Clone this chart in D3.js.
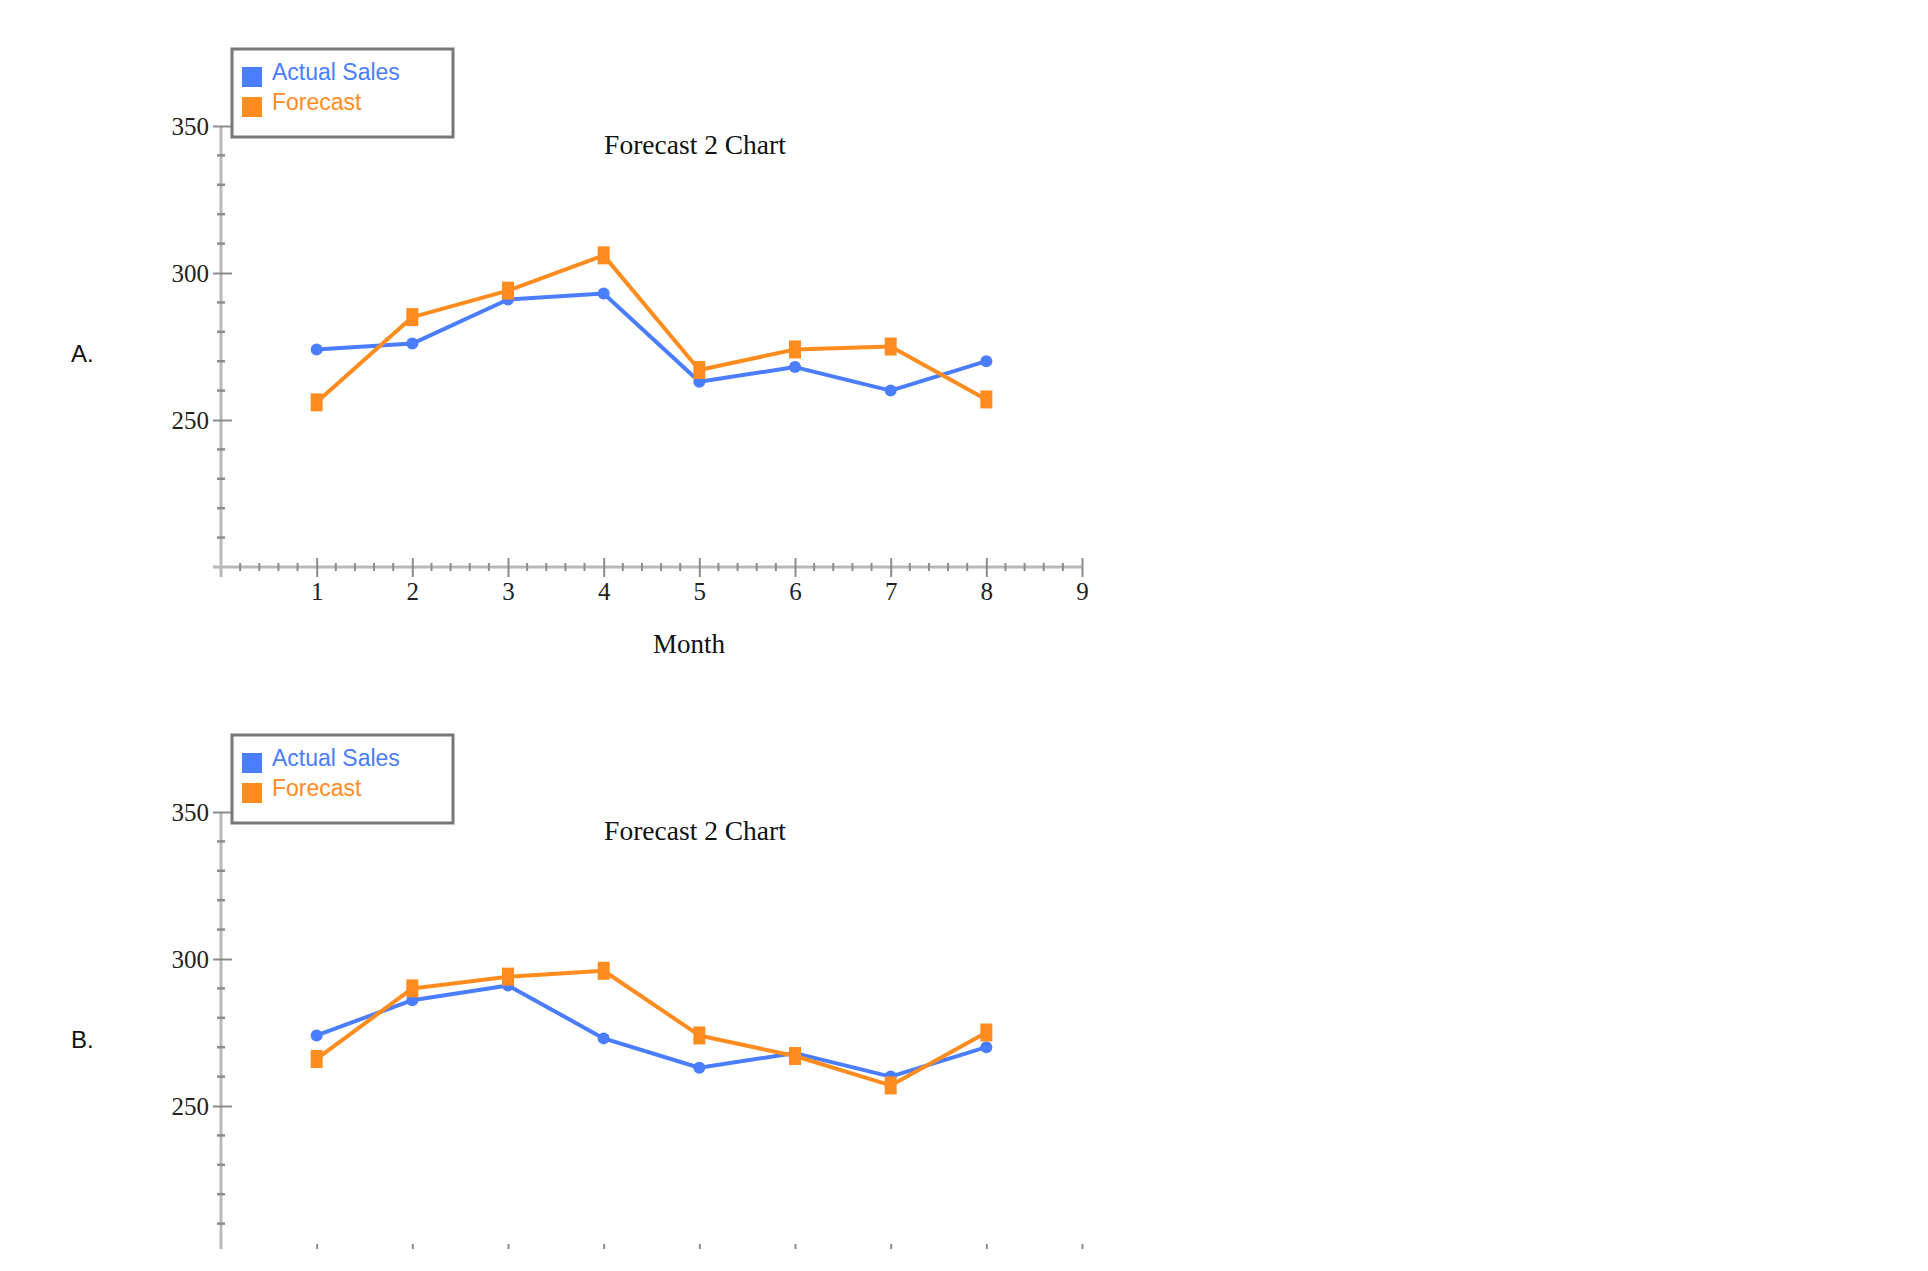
<!DOCTYPE html>
<html>
<head>
<meta charset="utf-8">
<script src="https://cdn.jsdelivr.net/npm/d3@7"></script>
<style>
  body { margin: 0; background: #fff; }
  svg { display: block; }
</style>
</head>
<body>
<svg id="chart"></svg>
<script>
const months = [1, 2, 3, 4, 5, 6, 7, 8];
const actualA = [274, 276, 291, 293, 263, 268, 260, 270];
const forecastA = [256, 285, 294, 306, 267, 274, 275, 257];
const actualB = [274, 286, 291, 273, 263, 268, 260, 270];
const forecastB = [266, 290, 294, 296, 274, 267, 257, 275];
const yTickLabels = [250, 300, 350];
const xTickLabels = [1, 2, 3, 4, 5, 6, 7, 8, 9];
const seriesNames = ["Actual Sales", "Forecast"];

const W = 1928, H = 1271;
const blue = "#4a7dff", orange = "#ff8c1f";
const serif = "'Liberation Serif', 'Times New Roman', serif";
const sans = "'Liberation Sans', Arial, sans-serif";

const svg = d3.select("#chart").attr("width", W).attr("height", H);

// the lower chart is cut off at the bottom of the page
svg.append("defs").append("clipPath").attr("id", "clipB")
  .append("rect").attr("x", 0).attr("y", 0).attr("width", W).attr("height", 1249);

const x = d3.scaleLinear().domain([0, 9]).range([221, 1082]);
const y = d3.scaleLinear().domain([200, 350]).range([567, 126]);

function drawChart(offset, letter, actual, forecast, cut) {
  const outer = svg.append("g");
  if (cut) outer.attr("clip-path", "url(#clipB)");
  const c = outer.append("g").attr("transform", `translate(0,${offset})`);

  // axis lines
  c.append("line")
    .attr("x1", x(0)).attr("x2", x(0))
    .attr("y1", y(350)).attr("y2", y(200) + 10)
    .attr("stroke", "#b9b9b9").attr("stroke-width", 3);
  c.append("line")
    .attr("x1", x(0) - 8).attr("x2", x(9))
    .attr("y1", y(200)).attr("y2", y(200))
    .attr("stroke", "#b9b9b9").attr("stroke-width", 3);

  // y minor ticks
  const yMinor = d3.range(210, 350, 10).filter(v => v % 50 !== 0);
  c.selectAll(".ymin").data(yMinor).enter().append("line")
    .attr("x1", x(0) - 4).attr("x2", x(0) + 4)
    .attr("y1", d => y(d)).attr("y2", d => y(d))
    .attr("stroke", "#8c8c8c").attr("stroke-width", 2.5);

  // y major ticks
  const yAxis = c.append("g")
    .attr("transform", `translate(${x(0)},0)`)
    .call(d3.axisLeft(y).tickValues(yTickLabels).tickSize(8).tickPadding(4));
  yAxis.select(".domain").remove();
  yAxis.selectAll(".tick line").attr("x1", 11).attr("x2", -8)
    .attr("stroke", "#8c8c8c").attr("stroke-width", 2);
  yAxis.selectAll(".tick text")
    .attr("font-family", serif).attr("font-size", 25).attr("fill", "#222");

  // x minor ticks
  const xMinor = d3.range(1, 45).map(i => i / 5).filter(v => Math.abs(v - Math.round(v)) > 1e-6);
  c.selectAll(".xmin").data(xMinor).enter().append("line")
    .attr("x1", d => x(d)).attr("x2", d => x(d))
    .attr("y1", y(200) - 4).attr("y2", y(200) + 4)
    .attr("stroke", "#8c8c8c").attr("stroke-width", 2);

  // x major ticks (labels only where the page shows them)
  const xAxis = c.append("g")
    .attr("transform", `translate(0,${y(200)})`)
    .call(d3.axisBottom(x).tickValues(xTickLabels).tickSize(10).tickPadding(5)
      .tickFormat(cut ? () => "" : d3.format("d")));
  xAxis.select(".domain").remove();
  xAxis.selectAll(".tick line").attr("y1", -9).attr("y2", 10)
    .attr("stroke", "#8c8c8c").attr("stroke-width", 2);
  xAxis.selectAll(".tick text")
    .attr("font-family", serif).attr("font-size", 25).attr("fill", "#222");
  if (cut) xAxis.selectAll(".tick text").remove();

  // title and axis label
  c.append("text").attr("x", 695).attr("y", 154).attr("text-anchor", "middle")
    .attr("font-family", serif).attr("font-size", 27.5).attr("fill", "#111")
    .text("Forecast 2 Chart");
  if (!cut) {
    c.append("text").attr("x", 689).attr("y", 653).attr("text-anchor", "middle")
      .attr("font-family", serif).attr("font-size", 27).attr("fill", "#111")
      .text("Month");
  }

  c.append("text").attr("x", 71).attr("y", 362)
    .attr("font-family", sans).attr("font-size", 24).attr("fill", "#111")
    .text(letter);

  // lines
  const line = d3.line().x((d, i) => x(months[i])).y(d => y(d));
  c.append("path").datum(actual).attr("d", line)
    .attr("fill", "none").attr("stroke", blue).attr("stroke-width", 4)
    .attr("stroke-linejoin", "round");
  c.append("path").datum(forecast).attr("d", line)
    .attr("fill", "none").attr("stroke", orange).attr("stroke-width", 4)
    .attr("stroke-linejoin", "round");

  c.selectAll(".dotA").data(actual).enter().append("circle")
    .attr("cx", (d, i) => x(months[i])).attr("cy", d => y(d))
    .attr("r", 6).attr("fill", blue);
  c.selectAll(".dotF").data(forecast).enter().append("rect")
    .attr("x", (d, i) => x(months[i]) - 6).attr("y", d => y(d) - 9)
    .attr("width", 12).attr("height", 18).attr("fill", orange);

  // legend
  const lg = c.append("g");
  lg.append("rect").attr("x", 232).attr("y", 49).attr("width", 221).attr("height", 88)
    .attr("fill", "#fff").attr("stroke", "#777").attr("stroke-width", 3);
  const colors = [blue, orange];
  seriesNames.forEach((name, i) => {
    lg.append("rect").attr("x", 242).attr("y", 67 + i * 30).attr("width", 20).attr("height", 20)
      .attr("fill", colors[i]);
    lg.append("text").attr("x", 272).attr("y", 80 + i * 30)
      .attr("font-family", sans).attr("font-size", 23).attr("fill", colors[i])
      .text(name);
  });
}

drawChart(0, "A.", actualA, forecastA, false);
drawChart(686, "B.", actualB, forecastB, true);
</script>
</body>
</html>
